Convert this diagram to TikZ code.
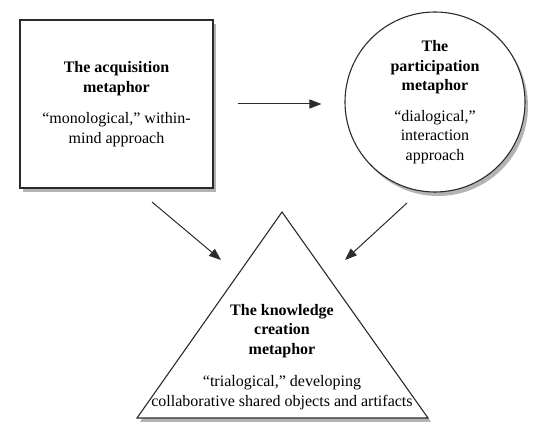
\documentclass[tikz,border=0pt]{standalone}
\usepackage{fontspec}
\setmainfont{Liberation Serif}
\usetikzlibrary{arrows.meta, shadows}
\definecolor{inkGray}{HTML}{2B2B2B}

\begin{document}
\begin{tikzpicture}[x=1pt, y=-1pt,
    font=\fontsize{16}{19.5}\selectfont,
    shade/.style={drop shadow={shadow xshift=3pt, shadow yshift=-4pt, opacity=0.6}},
    box/.style={draw=inkGray, line width=1.1pt, fill=white, shade, align=center, inner sep=0pt},
    link/.style={draw=inkGray, line width=1pt, -{Triangle[length=12pt, width=9pt]}}
  ]
  \useasboundingbox (0,0) rectangle (544,443);
  \node[box, rectangle, minimum width=193pt, minimum height=168pt] (acq) at (116.5,104)
    {\textbf{The acquisition}\\\textbf{metaphor}\\[12pt]“monological,” within-\\mind approach};
  \node[box, circle, minimum size=180pt] (par) at (435,102)
    {\textbf{The}\\\textbf{participation}\\\textbf{metaphor}\\[11pt]“dialogical,”\\interaction\\approach};
  % knowledge creation triangle
  \coordinate (kc-top) at (282,212);
  \coordinate (kc-lft) at (137,418);
  \coordinate (kc-rgt) at (428,418);
  \draw[inkGray, line width=1.1pt, fill=white, shade] (kc-top) -- (kc-rgt) -- (kc-lft) -- cycle;
  \node[align=center] (kc) at (282,357)
    {\textbf{The knowledge}\\\textbf{creation}\\\textbf{metaphor}\\[13pt]“trialogical,” developing\\collaborative shared objects and artifacts};
  % arrow ends
  \coordinate (acq-out) at (152,202);
  \coordinate (kc-inl)  at (221,260);
  \coordinate (par-out) at (407,203);
  \coordinate (kc-inr)  at (345,260);
  \draw[link, shorten <=24pt, shorten >=23pt] (acq.east) -- (acq.east -| par.west);
  \draw[link] (acq-out) -- (kc-inl);
  \draw[link] (par-out) -- (kc-inr);
\end{tikzpicture}
\end{document}
